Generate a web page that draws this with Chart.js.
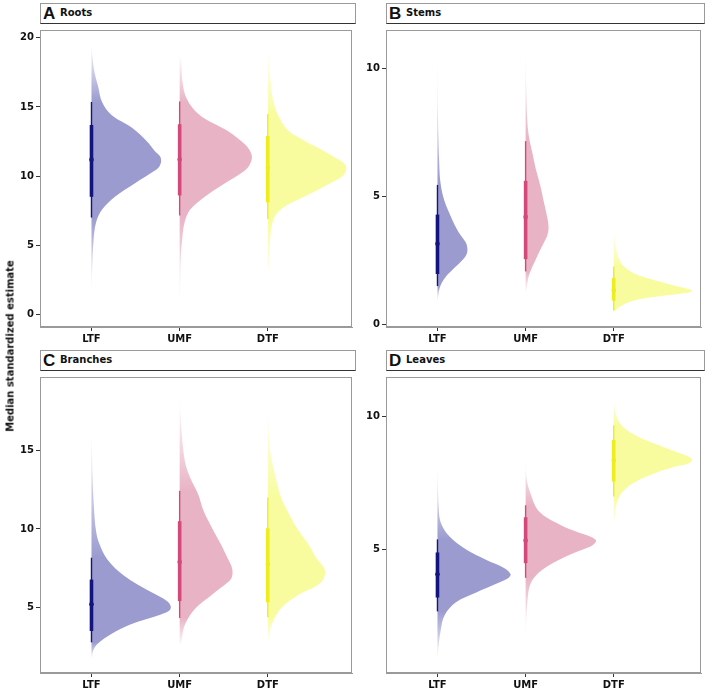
<!DOCTYPE html>
<html>
<head>
<meta charset="utf-8">
<script src="https://cdn.jsdelivr.net/npm/chart.js@4.4.0/dist/chart.umd.min.js"></script>
<style>
    body { margin: 0; background: #fff; width: 708px; height: 692px; position: relative; overflow: hidden; }
    canvas { position: absolute; }
    .strip { position: absolute; box-sizing: border-box; height: 21px; background: #fff;
             border: 1px solid #9a9a9a; border-bottom: 1px solid #333; z-index: 2;
             font-family: "DejaVu Sans", sans-serif; font-weight: bold; color: #111; }
    .strip .tag { position: absolute; left: 2px; top: 0px; font-family: "Liberation Sans", Arial, sans-serif; font-size: 17px; }
    .strip .name { position: absolute; left: 19px; top: 3px; font-size: 10px; }
    #ylab { position: absolute; left: 10px; top: 346px; transform: translate(-50%, -50%) rotate(-90deg);
            white-space: nowrap; font-family: "DejaVu Sans", sans-serif; font-weight: bold; font-size: 10px; color: #111; z-index: 2; }
</style>
</head>
<body>
<canvas id="roots" width="356" height="323" style="left:0;top:22px"></canvas>
<canvas id="stems" width="349" height="323" style="left:356px;top:22px"></canvas>
<canvas id="branches" width="356" height="323" style="left:0;top:369px"></canvas>
<canvas id="leaves" width="349" height="323" style="left:356px;top:369px"></canvas>

<div class="strip" style="left:40px;top:3px;width:316px"><span class="tag">A</span><span class="name">Roots</span></div>
<div class="strip" style="left:386px;top:3px;width:319px"><span class="tag">B</span><span class="name">Stems</span></div>
<div class="strip" style="left:40px;top:350px;width:316px"><span class="tag">C</span><span class="name">Branches</span></div>
<div class="strip" style="left:386px;top:350px;width:319px"><span class="tag">D</span><span class="name">Leaves</span></div>
<div id="ylab">Median standardized estimate</div>

<script>
// categories
const groups = ["LTF", "UMF", "DTF"];
const fillColors = ["155,155,208", "233,179,198", "248,252,158"];
const intervalColors = ["#14147f", "#d2497a", "#eeee1e"];

// density outlines: [value, half-width in category units]
const rootsLTF = [[1.5,0],[3.34,0.008],[5.23,0.022],[6.64,0.052],[7.58,0.12],[8.53,0.27],[9.47,0.49],[10.4,0.72],[10.7,0.77],[11.1,0.79],[11.45,0.775],[11.8,0.72],[12.5,0.63],[13.5,0.46],[14.4,0.23],[15.36,0.12],[16.5,0.075],[17.5,0.035],[18.6,0.012],[19.7,0]];
const rootsUMF = [[0.2,0],[2,0.005],[3.8,0.01],[5.23,0.026],[6.64,0.056],[7.58,0.12],[8.53,0.29],[9.47,0.51],[10.41,0.74],[10.9,0.8],[11.36,0.82],[11.8,0.8],[12.3,0.74],[13.24,0.55],[14.4,0.23],[15.6,0.08],[16.77,0.034],[17.95,0.02],[18.9,0]];
const rootsDTF = [[2,0],[4.6,0.02],[6.7,0.056],[7.6,0.15],[8.5,0.41],[9.25,0.64],[9.95,0.84],[10.3,0.88],[10.65,0.89],[10.95,0.86],[11.2,0.8],[11.8,0.64],[12.75,0.36],[13.5,0.2],[15.1,0.075],[17,0.03],[19.3,0]];

const stemsLTF = [[0.85,0],[1.42,0.026],[1.81,0.086],[2.19,0.19],[2.57,0.3],[2.75,0.333],[2.95,0.34],[3.2,0.32],[3.59,0.24],[4.22,0.15],[4.86,0.075],[5.5,0.035],[6.26,0.02],[8,0.006],[10.97,0]];
const stemsUMF = [[1.17,0],[1.5,0.015],[1.93,0.04],[2.57,0.12],[3.2,0.21],[3.45,0.245],[3.71,0.26],[3.9,0.258],[4.1,0.25],[4.73,0.21],[5.37,0.17],[6,0.12],[6.64,0.08],[7.28,0.04],[7.91,0.02],[9.5,0.005],[10.97,0]];
const stemsDTF = [[0.47,0],[0.66,0.056],[0.92,0.22],[1.11,0.56],[1.22,0.82],[1.3,0.89],[1.38,0.84],[1.55,0.64],[1.81,0.37],[2.06,0.19],[2.44,0.075],[3.08,0.02],[3.84,0]];

const branchesLTF = [[1.65,0],[2.27,0.02],[2.68,0.067],[3.3,0.22],[3.93,0.44],[4.55,0.78],[4.8,0.88],[5.05,0.9],[5.4,0.86],[6.0,0.67],[7.03,0.37],[8.06,0.18],[9.1,0.086],[9.93,0.05],[11.17,0.03],[13.65,0.01],[16.76,0]];
const branchesUMF = [[2.48,0],[2.89,0.02],[3.92,0.06],[4.96,0.18],[5.79,0.36],[6.62,0.55],[6.9,0.59],[7.24,0.6],[7.6,0.59],[8.07,0.55],[9.1,0.46],[10.14,0.36],[11.17,0.27],[12.21,0.21],[13.25,0.12],[14.28,0.06],[16.35,0.02],[18.42,0]];
const branchesDTF = [[2.7,0],[2.89,0.01],[3.92,0.045],[4.96,0.15],[5.79,0.34],[6.41,0.56],[6.8,0.63],[7.24,0.65],[7.6,0.63],[8.07,0.56],[9.1,0.45],[10.14,0.32],[11.17,0.22],[12,0.15],[13.25,0.09],[15.31,0.02],[18.63,0]];

const leavesLTF = [[0.82,0],[1.31,0.01],[1.92,0.034],[2.53,0.08],[3.02,0.21],[3.39,0.44],[3.76,0.7],[3.92,0.8],[4.07,0.83],[4.3,0.76],[4.62,0.55],[4.99,0.33],[5.48,0.14],[5.95,0.045],[6.44,0.015],[8.28,0]];
const leavesUMF = [[1.8,0],[3.02,0.02],[3.75,0.06],[4.24,0.19],[4.73,0.45],[5.1,0.73],[5.22,0.78],[5.34,0.8],[5.48,0.74],[5.64,0.6],[5.95,0.38],[6.44,0.15],[7.06,0.06],[7.67,0.01],[8.65,0]];
const leavesDTF = [[5.71,0],[6.2,0.01],[6.94,0.056],[7.43,0.19],[7.79,0.41],[8.1,0.69],[8.22,0.84],[8.35,0.89],[8.47,0.86],[8.59,0.77],[8.9,0.52],[9.26,0.26],[9.63,0.094],[10.12,0.02],[10.92,0]];

// point intervals: median, 66% and 95% ranges
const rootsMedian = [11.19, 11.2, 10.6];
const rootsInner = [[8.5, 13.7], [8.6, 13.75], [8.1, 12.9]];
const rootsOuter = [[7.0, 15.36], [7.15, 15.4], [6.9, 14.5]];

const stemsMedian = [3.14, 4.19, 1.32];
const stemsInner = [[1.96, 4.28], [2.54, 5.6], [0.92, 1.81]];
const stemsOuter = [[1.49, 5.44], [2.06, 7.15], [0.53, 2.25]];

const branchesMedian = [5.21, 7.9, 7.76];
const branchesInner = [[3.51, 6.78], [5.41, 10.49], [5.33, 10.04]];
const branchesOuter = [[2.79, 8.17], [4.34, 12.42], [4.38, 12.0]];

const leavesMedian = [4.07, 5.34, 8.34];
const leavesInner = [[3.2, 4.89], [4.49, 6.21], [7.55, 9.11]];
const leavesOuter = [[2.68, 5.38], [3.94, 6.66], [6.99, 9.66]];

// tick labels
const rootsTicks = [0, 5, 10, 15, 20];
const stemsTicks = [0, 5, 10];
const branchesTicks = [5, 10, 15];
const leavesTicks = [5, 10];

const tickFont = { family: "DejaVu Sans", size: 10, weight: "bold" };

const panelBorder = {
    id: "panelBorder",
    afterDraw(chart) {
        const { ctx, chartArea: a } = chart;
        ctx.save();
        ctx.strokeStyle = "#9a9a9a";
        ctx.lineWidth = 1;
        ctx.strokeRect(a.left + 0.5, a.top + 0.5, a.right - a.left - 1, a.bottom - a.top - 1);
        ctx.restore();
    }
};

function fadeFill(i, dens, outer) {
    return function (c) {
        const chart = c.chart;
        const y = chart.scales.y;
        if (!chart.chartArea || !y) return "rgba(" + fillColors[i] + ",1)";
        const lo = y.getPixelForValue(dens[0][0]);
        const hi = y.getPixelForValue(dens[dens.length - 1][0]);
        const oLo = y.getPixelForValue(outer[0]);
        const oHi = y.getPixelForValue(outer[1]);
        const g = chart.ctx.createLinearGradient(0, lo, 0, hi);
        const total = hi - lo;
        const s1 = Math.min(Math.max((oLo - lo) / total, 0.02), 0.98);
        const s2 = Math.min(Math.max((oHi - lo) / total, s1), 0.98);
        g.addColorStop(0, "rgba(" + fillColors[i] + ",0)");
        g.addColorStop(s1 * 0.55, "rgba(" + fillColors[i] + ",0.55)");
        g.addColorStop(s1, "rgba(" + fillColors[i] + ",1)");
        g.addColorStop(s2, "rgba(" + fillColors[i] + ",1)");
        g.addColorStop(s2 + (1 - s2) * 0.45, "rgba(" + fillColors[i] + ",0.55)");
        g.addColorStop(1, "rgba(" + fillColors[i] + ",0)");
        return g;
    };
}

function makePanel(id, densities, medians, inner, outer, yTicks, yMin, yMax, xMin, xMax, axisW, axisH) {
    const datasets = [];
    densities.forEach((dens, i) => {
        const c = i + 1;
        datasets.push({
            data: dens.map(d => ({ x: c + d[1], y: d[0] })),
            fill: { value: c },
            backgroundColor: fadeFill(i, dens, outer[i]),
            borderWidth: 0,
            pointRadius: 0,
            tension: 0.35,
            order: 5
        });
    });
    densities.forEach((dens, i) => {
        const c = i + 1;
        datasets.push({
            data: [{ x: c, y: outer[i][0] }, { x: c, y: outer[i][1] }],
            borderColor: intervalColors[i], borderWidth: 1.4, pointRadius: 0, fill: false,
            borderCapStyle: "butt", order: 3
        });
        datasets.push({
            data: [{ x: c, y: inner[i][0] }, { x: c, y: inner[i][1] }],
            borderColor: intervalColors[i], borderWidth: 3.6, pointRadius: 0, fill: false,
            borderCapStyle: "butt", order: 2
        });
        datasets.push({
            data: [{ x: c, y: medians[i] }],
            showLine: false, pointRadius: 2.3, pointBorderWidth: 0,
            pointBackgroundColor: intervalColors[i], fill: false, order: 1
        });
    });

    new Chart(document.getElementById(id), {
        type: "line",
        data: { datasets },
        options: {
            indexAxis: "y",
            responsive: false,
            animation: false,
            layout: { padding: { top: 1, right: 1, left: 0, bottom: 0 } },
            plugins: { legend: { display: false }, tooltip: { enabled: false } },
            scales: {
                x: {
                    type: "linear", position: "bottom", min: xMin, max: xMax,
                    afterBuildTicks: s => { s.ticks = [1, 2, 3].map(v => ({ value: v })); },
                    afterFit: s => { s.height = axisH; },
                    ticks: { callback: v => groups[v - 1], font: tickFont, color: "#111", padding: 2, maxRotation: 0 },
                    grid: { drawOnChartArea: false, tickLength: 4, color: "#333" },
                    border: { color: "#9a9a9a" }
                },
                y: {
                    type: "linear", min: yMin, max: yMax,
                    afterBuildTicks: s => { s.ticks = yTicks.map(v => ({ value: v })); },
                    afterFit: s => { s.width = axisW; },
                    ticks: { font: tickFont, color: "#111", padding: 2 },
                    grid: { drawOnChartArea: false, tickLength: 4, color: "#333" },
                    border: { color: "#9a9a9a" }
                }
            }
        },
        plugins: [panelBorder]
    });
}

makePanel("roots", [rootsLTF, rootsUMF, rootsDTF], rootsMedian, rootsInner, rootsOuter,
    rootsTicks, -0.92, 20.57, 0.416, 3.955, 40, 18);
makePanel("stems", [stemsLTF, stemsUMF, stemsDTF], stemsMedian, stemsInner, stemsOuter,
    stemsTicks, -0.11, 11.49, 0.416, 3.99, 30, 18);
makePanel("branches", [branchesLTF, branchesUMF, branchesDTF], branchesMedian, branchesInner, branchesOuter,
    branchesTicks, 0.84, 19.66, 0.416, 3.955, 40, 19);
makePanel("leaves", [leavesLTF, leavesUMF, leavesDTF], leavesMedian, leavesInner, leavesOuter,
    leavesTicks, 0.37, 11.47, 0.416, 3.99, 30, 19);
</script>
</body>
</html>
